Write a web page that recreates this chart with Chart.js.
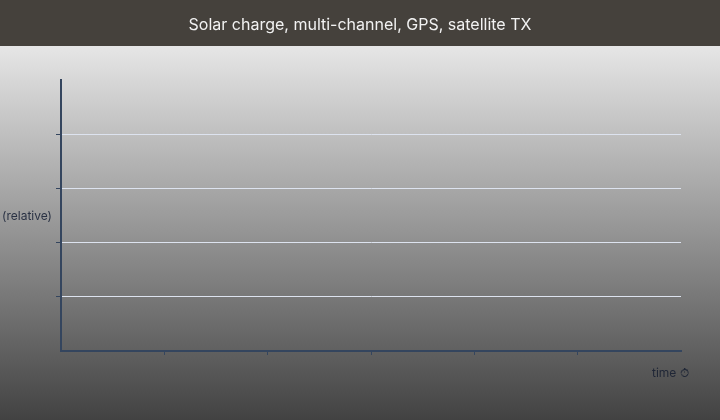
<!DOCTYPE html>
<html>
<head>
<meta charset="utf-8">
<script src="https://cdn.jsdelivr.net/npm/chart.js@4"></script>
<style>
html,body{margin:0;padding:0;background:#444;}
#wrap{width:720px;height:420px;position:relative;}
</style>
</head>
<body>
<div id="wrap"><canvas id="c" width="720" height="420"></canvas></div>
<script>
// ---- data ----
const chartTitle = 'Solar charge, multi-channel, GPS, satellite TX';
const yAxisTitle = '(relative)';
const xAxisTitle = 'time \u23F1';
const categories = [];          // no categories plotted in the reference
const seriesValues = [];        // empty series
const xTickValues = [0, 1, 2, 3, 4, 5, 6];
const yTickValues = [0, 1, 2, 3, 4, 5];

const AXIS = '#34455e';
const GRID = '#dde3ef';

const bgPlugin = {
  id: 'bg',
  beforeDraw(chart) {
    const {ctx, width, height} = chart;
    ctx.save();
    const g = ctx.createLinearGradient(0, 46, 0, height);
    g.addColorStop(0, '#e6e6e6');
    g.addColorStop(1, '#424242');
    ctx.fillStyle = g;
    ctx.fillRect(0, 46, width, height - 46);
    ctx.fillStyle = '#45413c';
    ctx.fillRect(0, 0, width, 46);
    ctx.restore();
  },
  afterDraw(chart) {
    const {ctx, chartArea, width} = chart;
    ctx.save();
    ctx.font = '16px Inter';
    ctx.fillStyle = '#f2f2f2';
    ctx.textAlign = 'center';
    ctx.textBaseline = 'middle';
    ctx.fillText(chartTitle, width / 2, 25);
    ctx.font = '12px Inter';
    ctx.fillStyle = '#2a3244';
    ctx.textAlign = 'right';
    ctx.fillText(yAxisTitle, chartArea.left - 9, (chartArea.top + chartArea.bottom) / 2 + 1);
    ctx.fillStyle = '#1f2636';
    ctx.textAlign = 'left';
    ctx.fillText(xAxisTitle, chartArea.right - 29, chartArea.bottom + 22);
    ctx.restore();
  }
};

const edge = (vals) => (c) => {
  const v = c.tick ? c.tick.value : null;
  return (v === vals[0] || v === vals[vals.length - 1]);
};

new Chart(document.getElementById('c'), {
  type: 'line',
  data: {
    labels: categories,
    datasets: [{ label: 'series', data: seriesValues, borderColor: AXIS }]
  },
  options: {
    responsive: false,
    animation: false,
    layout: { padding: { left: 0, right: 39, top: 80, bottom: 0 } },
    plugins: {
      legend: { display: false },
      tooltip: { enabled: false },
      title: { display: false }
    },
    scales: {
      x: {
        type: 'linear',
        min: xTickValues[0],
        max: xTickValues[xTickValues.length - 1],
        afterBuildTicks: (s) => { s.ticks = xTickValues.map(v => ({ value: v })); },
        afterFit: (s) => { s.height = 69; },
        ticks: { display: false },
        grid: {
          drawOnChartArea: false,
          drawTicks: true,
          tickLength: 4,
          tickWidth: 1,
          tickColor: (c) => edge(xTickValues)(c) ? 'rgba(0,0,0,0)' : AXIS
        },
        border: { display: true, color: AXIS, width: 2 }
      },
      y: {
        type: 'linear',
        min: yTickValues[0],
        max: yTickValues[yTickValues.length - 1],
        afterBuildTicks: (s) => { s.ticks = yTickValues.map(v => ({ value: v })); },
        afterFit: (s) => { s.width = 61; },
        ticks: { display: false },
        grid: {
          drawOnChartArea: true,
          drawTicks: true,
          tickLength: 5,
          lineWidth: 1,
          color: (c) => edge(yTickValues)(c) ? 'rgba(0,0,0,0)' : GRID,
          tickColor: (c) => edge(yTickValues)(c) ? 'rgba(0,0,0,0)' : AXIS
        },
        border: { display: true, color: AXIS, width: 2 }
      }
    }
  },
  plugins: [bgPlugin]
});
</script>
</body>
</html>
